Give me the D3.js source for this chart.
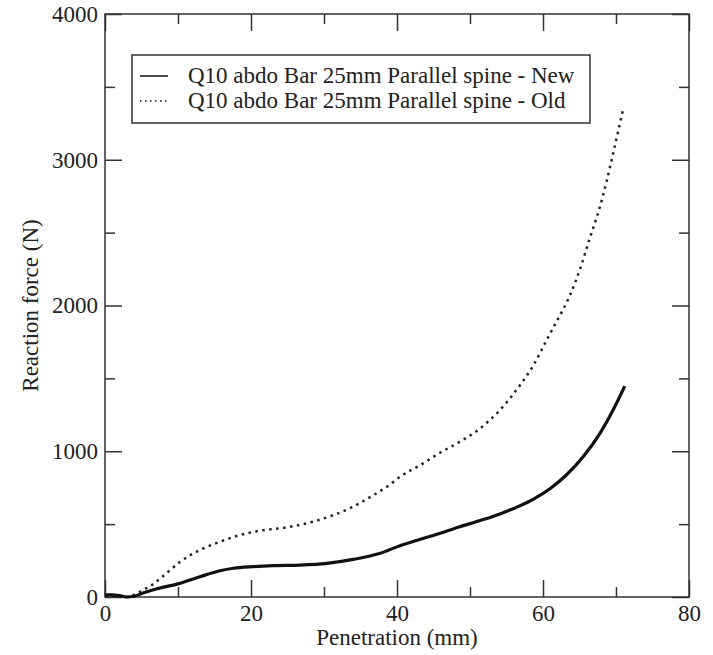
<!DOCTYPE html>
<html>
<head>
<meta charset="utf-8">
<script src="https://cdn.jsdelivr.net/npm/d3@7"></script>
<style>
  body { margin: 0; background: #fff; }
</style>
</head>
<body>
<div id="chart"></div>
<script>
// series: penetration (mm) -> reaction force (N)
var newPen = [0, 1, 2, 3, 4, 5.2, 7, 10, 13, 15.75, 17.6, 20.3, 23, 26.7, 30.4, 34, 37.7, 40.4, 43.2, 45.9, 48.6, 51.4, 54.1, 56.8, 58.7, 61, 63.2, 65.5, 67.8, 69.6, 71.2];
var newForce = [15, 15, 10, 0, 5, 27, 55, 90, 139, 180, 197, 208, 215, 219, 231, 258, 300, 352, 396, 437, 482, 525, 570, 625, 672, 745, 837, 962, 1123, 1283, 1447];

var oldPen = [0, 2, 3, 4, 5.2, 6.2, 8.4, 10.3, 13, 15.75, 18.5, 21.2, 24.9, 28.5, 31.3, 34, 36.8, 39, 40.4, 43.2, 45.9, 48.6, 51.4, 54.1, 56.8, 58.7, 60.5, 61.6, 63.7, 65.1, 66.4, 67.8, 68.7, 69.6, 71];
var oldForce = [10, 5, 0, 15, 48, 75, 162, 242, 322, 379, 425, 455, 478, 517, 562, 620, 700, 770, 825, 905, 990, 1065, 1157, 1283, 1450, 1591, 1763, 1866, 2071, 2254, 2460, 2677, 2848, 3043, 3352];

var xMajor = [0, 20, 40, 60, 80];
var xMinor = [10, 30, 50, 70];
var yMajor = [0, 1000, 2000, 3000, 4000];
var yMinor = [500, 1500, 2500, 3500];

var seriesNames = ["Q10 abdo Bar 25mm Parallel spine - New", "Q10 abdo Bar 25mm Parallel spine - Old"];

var width = 713, height = 655;
var margin = { top: 14, right: 24, bottom: 58, left: 105 };
var fontSize = 23;
var serif = "Liberation Serif, DejaVu Serif, Noto Serif, Tinos, FreeSerif, Times New Roman, Times, serif";

var svg = d3.select("#chart").append("svg")
  .attr("width", width).attr("height", height)
  .attr("font-family", serif)
  .style("display", "block");

var x = d3.scaleLinear().domain([0, 80]).range([margin.left, width - margin.right]);
var y = d3.scaleLinear().domain([0, 4000]).range([height - margin.bottom, margin.top]);

var axisColor = "#333";

function styleAxis(g) {
  g.attr("font-family", serif);
  g.select(".domain").remove();
  g.selectAll(".tick line").attr("stroke", axisColor).attr("stroke-width", 1.5);
  g.selectAll(".tick text").attr("fill", "#222").attr("font-size", fontSize);
}

// bottom: labelled major ticks + minor, all pointing in
svg.append("g").attr("transform", "translate(0," + y(0) + ")")
  .call(d3.axisBottom(x).tickValues(xMajor).tickSize(-17).tickPadding(8).tickFormat(d3.format("d")))
  .call(styleAxis);
svg.append("g").attr("transform", "translate(0," + y(0) + ")")
  .call(d3.axisBottom(x).tickValues(xMinor).tickSize(-10).tickFormat(""))
  .call(styleAxis);

// top
svg.append("g").attr("transform", "translate(0," + y(4000) + ")")
  .call(d3.axisTop(x).tickValues(xMajor).tickSize(-17).tickFormat(""))
  .call(styleAxis);
svg.append("g").attr("transform", "translate(0," + y(4000) + ")")
  .call(d3.axisTop(x).tickValues(xMinor).tickSize(-10).tickFormat(""))
  .call(styleAxis);

// left
svg.append("g").attr("transform", "translate(" + x(0) + ",0)")
  .call(d3.axisLeft(y).tickValues(yMajor).tickSize(-17).tickPadding(7).tickFormat(d3.format("d")))
  .call(styleAxis);
svg.append("g").attr("transform", "translate(" + x(0) + ",0)")
  .call(d3.axisLeft(y).tickValues(yMinor).tickSize(-10).tickFormat(""))
  .call(styleAxis);

// right
svg.append("g").attr("transform", "translate(" + x(80) + ",0)")
  .call(d3.axisRight(y).tickValues(yMajor).tickSize(-17).tickFormat(""))
  .call(styleAxis);
svg.append("g").attr("transform", "translate(" + x(80) + ",0)")
  .call(d3.axisRight(y).tickValues(yMinor).tickSize(-10).tickFormat(""))
  .call(styleAxis);

// frame
svg.append("rect")
  .attr("x", x(0)).attr("y", y(4000))
  .attr("width", x(80) - x(0)).attr("height", y(0) - y(4000))
  .attr("fill", "none").attr("stroke", axisColor).attr("stroke-width", 1.5);

// curves
var line = d3.line()
  .x(function (d) { return x(d[0]); })
  .y(function (d) { return y(d[1]); })
  .curve(d3.curveMonotoneX);

var newData = d3.zip(newPen, newForce);
var oldData = d3.zip(oldPen, oldForce);

svg.append("path").datum(oldData)
  .attr("d", line)
  .attr("fill", "none").attr("stroke", "#222")
  .attr("stroke-width", 2.5).attr("stroke-dasharray", "2.5,4.5");

svg.append("path").datum(newData)
  .attr("d", line)
  .attr("fill", "none").attr("stroke", "#111")
  .attr("stroke-width", 3.2);

// legend
var legend = svg.append("g");
legend.append("rect")
  .attr("x", 132).attr("y", 55).attr("width", 458).attr("height", 68)
  .attr("fill", "#fff").attr("stroke", axisColor).attr("stroke-width", 1.5);

var rows = [
  { name: seriesNames[0], dash: null, y: 76 },
  { name: seriesNames[1], dash: "1.5,3.5", y: 101 }
];
rows.forEach(function (r) {
  legend.append("line")
    .attr("x1", 140).attr("x2", 168).attr("y1", r.y).attr("y2", r.y)
    .attr("stroke", "#111").attr("stroke-width", 1.5)
    .attr("stroke-dasharray", r.dash);
  legend.append("text")
    .attr("x", 188).attr("y", r.y + 7)
    .attr("font-size", fontSize).attr("fill", "#222")
    .text(r.name);
});

// axis titles
svg.append("text")
  .attr("x", (x(0) + x(80)) / 2).attr("y", 645)
  .attr("text-anchor", "middle").attr("font-size", fontSize).attr("fill", "#222")
  .text("Penetration (mm)");

svg.append("text")
  .attr("transform", "translate(38," + (y(0) + y(4000)) / 2 + ") rotate(-90)")
  .attr("text-anchor", "middle").attr("font-size", fontSize).attr("fill", "#222")
  .text("Reaction force (N)");
</script>
</body>
</html>
